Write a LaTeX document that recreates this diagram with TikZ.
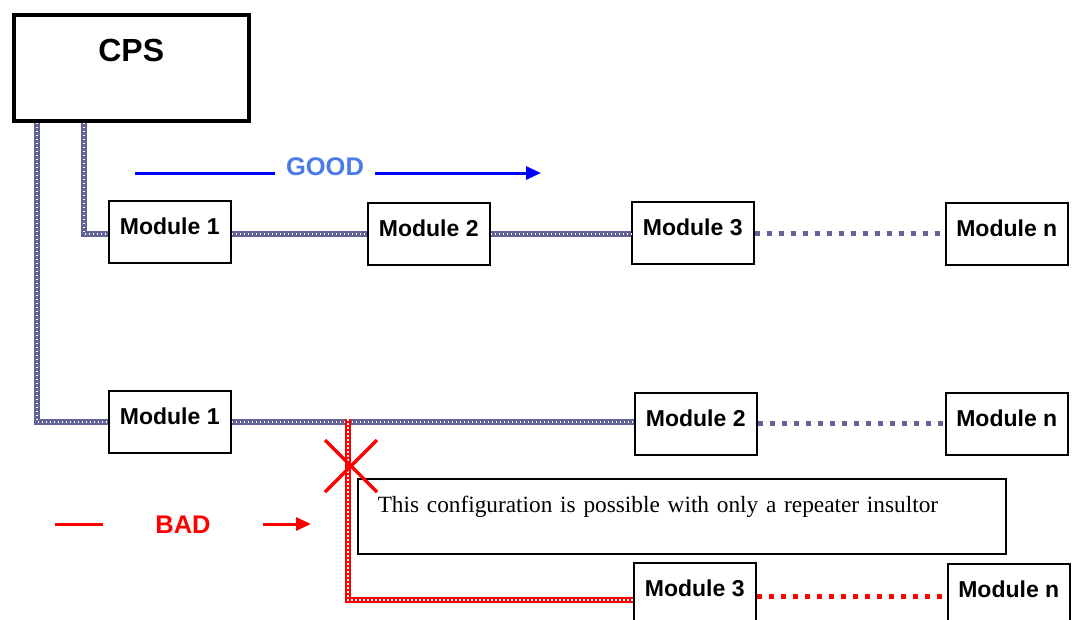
\documentclass[tikz,border=0pt]{standalone}
\usepackage{fontspec}
\setmainfont{Liberation Sans}
\newfontfamily\notefont{Liberation Serif}
\usetikzlibrary{arrows.meta, positioning}
\definecolor{slate}{RGB}{98,98,150}
\definecolor{goodtxt}{RGB}{74,123,232}
\tikzset{
    cpsbox/.style={rectangle, draw, line width=3.5pt, minimum width=235pt, inner xsep=0pt, inner ysep=1pt, text height=46pt, text depth=58pt, font=\fontsize{32}{32}\selectfont\bfseries, anchor=north west},
    modbox/.style={rectangle, draw, line width=1.5pt, fill=white, minimum width=122pt, inner xsep=0pt, inner ysep=1pt, text height=33pt, text depth=27pt, font=\fontsize{23}{23}\selectfont\bfseries, anchor=north west},
    notebox/.style={rectangle, draw, line width=1.5pt, fill=white, text width=608pt, inner xsep=20pt, inner ysep=1pt, text height=33pt, text depth=40pt, align=left, font=\fontsize{23.3}{24}\selectfont\notefont, anchor=north west},
    cable/.style={line width=6pt, draw=slate, postaction={draw=white, line width=1.5pt, dash pattern=on 1.5pt off 2.5pt}},
    redcable/.style={cable, draw=red},
    dotline/.style={line width=5pt, draw=slate, dash pattern=on 5pt off 7pt},
    reddot/.style={dotline, draw=red},
    bigword/.style={font=\fontsize{25.5}{25.5}\selectfont\bfseries}
}

\begin{document}
\begin{tikzpicture}[x=1pt, y=-1pt]
    \useasboundingbox (0,0) rectangle (1075,619);
    \clip (0,0) rectangle (1075,619);

    % Controller
    \node (cps) [cpsbox] at (12,13) {CPS};

    % Good chain
    \node (m1a) [modbox] at (108,200) {Module 1};
    \node (m2a) [modbox] at (367,202) {Module 2};
    \node (m3a) [modbox] at (631,201) {Module 3};
    \node (mna) [modbox] at (945,202) {Module n};

    % Bad chain
    \node (m1b) [modbox] at (108,390) {Module 1};
    \node (m2b) [modbox] at (634,392) {Module 2};
    \node (mnb) [modbox] at (945,392) {Module n};
    \node (note) [notebox] at (357,478) {This configuration is possible with only a repeater insultor};
    \node (m3c) [modbox] at (633,562) {Module 3};
    \node (mnc) [modbox] at (947,563) {Module n};

    % Labels
    \node (goodtext) [bigword, text=goodtxt, inner xsep=11pt] at (325,167) {GOOD};
    \node (badtext) [bigword, text=red, inner xsep=52pt] at (183,525) {BAD};
    \coordinate (gstart) at (135,173);
    \coordinate (gend) at (541,173);
    \coordinate (bstart) at (55,524);
    \coordinate (bend) at (311,524);
    \draw [blue, line width=3pt] (gstart) -- (gstart -| goodtext.west);
    \draw [blue, line width=3pt, -{Triangle[length=15pt, width=13pt]}] (gstart -| goodtext.east) -- (gend);
    \draw [red, line width=3pt] (bstart) -- (bstart -| badtext.west);
    \draw [red, line width=3pt, -{Triangle[length=15pt, width=13pt]}] (bstart -| badtext.east) -- (bend);

    % Cables, good
    \draw [cable] ([xshift=72pt]cps.south west) |- (m1a.west |- m2a.west);
    \draw [cable] (m1a.east |- m2a.west) -- (m2a.west);
    \draw [cable] (m2a.east) -- (m3a.west |- m2a.east);
    \draw [dotline] (m3a.east |- m2a.east) -- (mna.west);

    % Cables, bad
    \coordinate (tap) at (348,419);
    \coordinate (turn) at (348,600);
    \draw [cable] ([xshift=25pt]cps.south west) |- (m1b.west);
    \draw [cable] (m1b.east) -- (m2b.west |- m1b.east);
    \draw [dotline] (m2b.east) -- (mnb.west |- m2b.east);
    \draw [redcable] (tap) -- (turn) -- (turn -| m3c.west);
    \draw [reddot] ([yshift=-3pt]m3c.east) -- ([yshift=-3pt]m3c.east -| mnc.west);

    % Cross
    \draw [red, line width=3.5pt] (325,440) -- (377,492);
    \draw [red, line width=3.5pt] (325,492) -- (377,440);
\end{tikzpicture}
\end{document}
